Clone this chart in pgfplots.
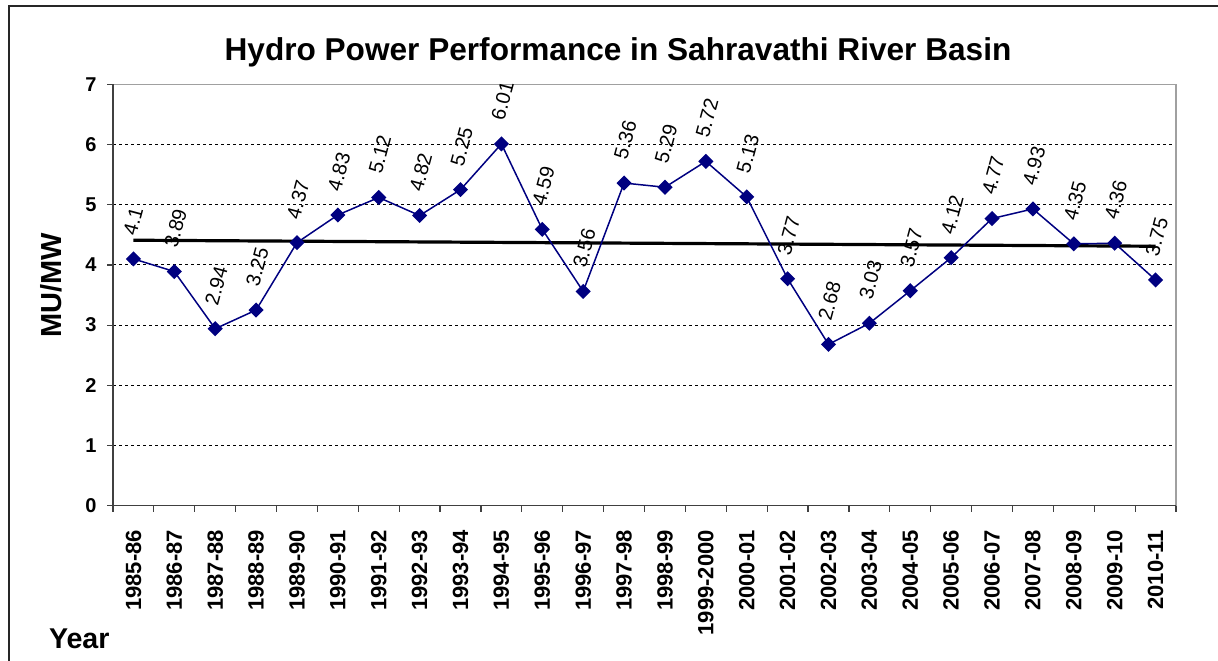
\documentclass[border=0pt]{standalone}
\usepackage{fontspec}
\setmainfont{Liberation Sans}
\usepackage{pgfplots}
\pgfplotsset{compat=1.18}
\usepackage{pgfplotstable}
\definecolor{navy}{HTML}{000080}
\definecolor{axgray}{HTML}{404040}
\definecolor{bordgray}{HTML}{A0A0A0}

\pgfplotstableread{
x y
1 4.10
2 3.89
3 2.94
4 3.25
5 4.37
6 4.83
7 5.12
8 4.82
9 5.25
10 6.01
11 4.59
12 3.56
13 5.36
14 5.29
15 5.72
16 5.13
17 3.77
18 2.68
19 3.03
20 3.57
21 4.12
22 4.77
23 4.93
24 4.35
25 4.36
26 3.75
}\datatable

\pgfplotstableread{
x y
1 4.41
26 4.31
}\trendtable

\begin{document}
\begin{tikzpicture}[x=1pt,y=1pt]
\path[use as bounding box] (0,0) rectangle (609,330);
\draw[line width=1pt, color=black!85] (4.25,-5) -- (4.25,326.75) -- (615,326.75);
\node[font=\bfseries\fontsize{15.8}{19}\selectfont, anchor=base] at (309,299.5) {Hydro Power Performance in Sahravathi River Basin};
\node[font=\bfseries\fontsize{14.5}{17}\selectfont, rotate=90, anchor=center] at (25.5,187.5) {MU/MW};
\node[font=\bfseries\fontsize{14.3}{17}\selectfont, anchor=base west] at (21,6) {Year};
\begin{axis}[
  at={(56.5pt,77.15pt)}, anchor=south west,
  scale only axis, width=531.5pt, height=210.7pt,
  xmin=0.5, xmax=26.5, ymin=0, ymax=7,
  xtick={1,...,26},
  xticklabels={1985-86,1986-87,1987-88,1988-89,1989-90,1990-91,1991-92,1992-93,1993-94,1994-95,1995-96,1996-97,1997-98,1998-99,1999-2000,2000-01,2001-02,2002-03,2003-04,2004-05,2005-06,2006-07,2007-08,2008-09,2009-10,2010-11},
  minor xtick={0.5,1.5,...,26.5},
  ytick={0,...,7},
  xtick pos=bottom, ytick pos=left,
  tick align=outside,
  major tick length=3pt, minor tick length=3pt,
  major x tick style={draw=none},
  minor x tick style={axgray, line width=0.6pt},
  major y tick style={axgray, line width=0.6pt},
  ymajorgrids,
  grid style={black, line width=0.5pt, dash pattern=on 1.5pt off 1.5pt},
  axis line style={draw=none},
  /pgf/number format/assume math mode=true,
  xticklabel style={rotate=90, anchor=east, inner sep=0pt, font=\bfseries\fontsize{11}{13}\selectfont},
  xticklabel shift=9pt,
  yticklabel style={anchor=east, inner sep=0pt, font=\bfseries\fontsize{10}{12}\selectfont},
  yticklabel shift=5pt,
  clip=false,
]
\addplot[black, line width=1.6pt, forget plot] table[x=x,y=y]{\trendtable};
\addplot[navy, line width=0.75pt, mark=diamond*, mark size=3.25pt,
  mark options={xscale=1.333, fill=navy, draw=navy, solid}] table[x=x,y=y]{\datatable};
\addplot[draw=none, mark=none,
  nodes near coords={\pgfmathprintnumber[fixed,precision=2]{\pgfplotspointmeta}},
  point meta=y,
  nodes near coords style={font=\fontsize{10}{12}\selectfont, text=black, xshift=-2pt, yshift=12pt, rotate=75, anchor=west, inner sep=0pt},
] table[x=x,y=y]{\datatable};
\draw[bordgray, line width=0.75pt] (rel axis cs:0,1) -- (rel axis cs:1,1) -- (rel axis cs:1,0);
\draw[axgray, line width=0.75pt] (rel axis cs:0,1) -- (rel axis cs:0,0) -- (rel axis cs:1,0);
\end{axis}
\end{tikzpicture}
\end{document}
